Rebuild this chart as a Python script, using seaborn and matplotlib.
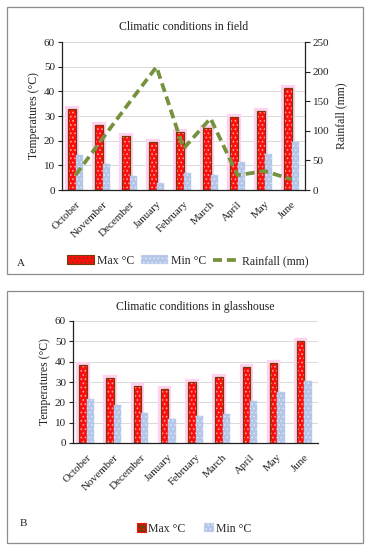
import matplotlib
matplotlib.use("Agg")
import matplotlib.pyplot as plt
import seaborn as sns
import pandas as pd
import matplotlib.patheffects as pe
from matplotlib.patches import Rectangle, Patch
from matplotlib.lines import Line2D
from matplotlib.colors import to_rgba

# ---------------- data ----------------
months = ["October", "November", "December", "January", "February",
          "March", "April", "May", "June"]
series_labels = ["Max °C", "Min °C"]
rain_label = "Rainfall (mm)"

field_max = [33, 26.5, 22, 19.5, 23.5, 25, 29.5, 32, 41.5]
field_min = [14, 10.5, 5.5, 3, 7, 6, 11.5, 14.5, 19.5]
field_rain = [25, 87, 148, 208, 70, 121, 25, 32, 18]

glass_max = [38.5, 32, 28, 26.5, 30, 32.5, 37.5, 39.5, 50]
glass_min = [21.5, 18.5, 15, 12, 13.5, 14.5, 20.5, 25, 30.5]

title_a = "Climatic conditions in field"
title_b = "Climatic conditions in glasshouse"
ylabel_t = "Temperatures (°C)"

# ---------------- style ----------------
sns.set_theme(style="white")
plt.rcParams["font.family"] = ["Liberation Serif", "DejaVu Serif"]
plt.rcParams["hatch.linewidth"] = 0.7

RED = "#ff0d0d"
BROWN = "#7a3a08"
RED_HATCH = "#ffa0a0"
BLUE = "#b4c6e7"
BLUE_HATCH = "#dde4f6"
GLOW = "#ffd2f0"
GREEN = "#76923c"
GRID = "#d9d9d9"
FS = 8

fig = plt.figure(figsize=(3.72, 5.5), dpi=100)
W, H = 372.0, 550.0


def fx(px):
    return px / W


def fy(py):
    return 1 - py / H


def temp_frame(mx, mn):
    return pd.DataFrame({
        "Month": months * 2,
        "Series": [series_labels[0]] * len(months) + [series_labels[1]] * len(months),
        "Temp": list(mx) + list(mn),
    })


def style_bars(ax):
    styles = [(RED, BROWN, RED_HATCH, "....", True),
              (BLUE, BLUE, BLUE_HATCH, "....", False)]
    for cont, (fc, ec, hc, hatch, glow) in zip(ax.containers, styles):
        for p in cont:
            p.set_facecolor(fc)
            p.set_edgecolor(ec)
            p.set_linewidth(0.9 if glow else 0.3)
            p.set_hatch(hatch)
            p._hatch_color = to_rgba(hc)
            if glow:
                p.set_path_effects([pe.withStroke(linewidth=4.5, foreground=GLOW)])


def style_axes(ax):
    ax.set_ylim(0, 60)
    ax.set_yticks(range(0, 61, 10))
    ax.yaxis.grid(True, color=GRID, lw=0.7)
    ax.xaxis.grid(False)
    ax.set_axisbelow(True)
    for s in ["top", "right"]:
        ax.spines[s].set_visible(False)
    for s in ["left", "bottom"]:
        ax.spines[s].set_color("#222222")
        ax.spines[s].set_linewidth(0.9)
    ax.tick_params(axis="y", left=True, length=3, width=0.8, color="#222222",
                   labelsize=FS, pad=2, labelcolor="#222222")
    ax.tick_params(axis="x", bottom=False, labelsize=FS, pad=1, labelcolor="#222222")
    plt.setp(ax.get_xticklabels(), rotation=45, ha="right", rotation_mode="anchor")
    ax.set_xlabel("")
    ax.set_ylabel(ylabel_t, fontsize=FS + 0.5, color="#222222", labelpad=3)


# ---------------- panel borders ----------------
for (x0, y0, x1, y1) in [(7, 7, 363, 274), (7, 291, 363, 543)]:
    fig.add_artist(Rectangle((fx(x0), fy(y1)), fx(x1) - fx(x0), (y1 - y0) / H,
                             transform=fig.transFigure, fill=False,
                             edgecolor="#8c8c8c", lw=0.9))

# ---------------- panel A ----------------
axA = fig.add_axes([fx(62), fy(190), fx(305) - fx(62), (190 - 42) / H])
sns.barplot(data=temp_frame(field_max, field_min), x="Month", y="Temp",
            hue="Series", ax=axA, width=0.58, legend=False, errorbar=None)
style_bars(axA)
style_axes(axA)
axA.set_title(title_a, fontsize=FS + 0.5, color="#222222", pad=9)

axR = axA.twinx()
sns.pointplot(x=months, y=field_rain, ax=axR, color=GREEN, errorbar=None)
for ln in axR.lines:
    ln.set_marker("None")
    ln.set_linewidth(2.7)
    ln.set_dashes([2.4, 1.3])
    ln.set_solid_capstyle("butt")
axR.set_ylim(0, 250)
axR.set_yticks(range(0, 251, 50))
axR.set_ylabel(rain_label, fontsize=FS + 0.5, color="#222222", labelpad=4)
for s in ["top", "left", "bottom"]:
    axR.spines[s].set_visible(False)
axR.spines["right"].set_color("#222222")
axR.spines["right"].set_linewidth(0.9)
axR.tick_params(axis="y", right=True, length=3.5, width=0.8, color="#222222",
                labelsize=FS, pad=2, labelcolor="#222222")
axR.grid(False)

hA = [Patch(facecolor=RED, edgecolor=BROWN, hatch="....", lw=0.8, label=series_labels[0]),
      Patch(facecolor=BLUE, edgecolor=BLUE_HATCH, hatch="....", lw=0.3, label=series_labels[1]),
      Line2D([], [], color=GREEN, lw=2.7, dashes=[2.4, 1.3], label=rain_label)]
fig.legend(handles=hA, loc="center", bbox_to_anchor=(fx(188), fy(261)), ncol=3,
           frameon=False, fontsize=FS + 0.5, handlelength=2.3, handleheight=0.8,
           columnspacing=0.6, handletextpad=0.2, borderaxespad=0)
fig.text(fx(17), fy(263), "A", fontsize=FS, color="#222222", va="center")

# ---------------- panel B ----------------
axB = fig.add_axes([fx(73), fy(443), fx(318) - fx(73), (443 - 321) / H])
sns.barplot(data=temp_frame(glass_max, glass_min), x="Month", y="Temp",
            hue="Series", ax=axB, width=0.54, legend=False, errorbar=None)
style_bars(axB)
style_axes(axB)
axB.set_title(title_b, fontsize=FS + 0.5, color="#222222", pad=8)

hB = [Patch(facecolor=BROWN, edgecolor=RED, hatch="....", lw=0.8, label=series_labels[0]),
      Patch(facecolor=BLUE, edgecolor=BLUE_HATCH, hatch="....", lw=0.3, label=series_labels[1])]
fig.legend(handles=hB, loc="center", bbox_to_anchor=(fx(194), fy(529)), ncol=2,
           frameon=False, fontsize=FS + 0.5, handlelength=0.8, handleheight=0.8,
           columnspacing=1.6, handletextpad=0.2, borderaxespad=0)
fig.text(fx(20), fy(523), "B", fontsize=FS, color="#222222", va="center")

fig.savefig("out.png", dpi=100)
